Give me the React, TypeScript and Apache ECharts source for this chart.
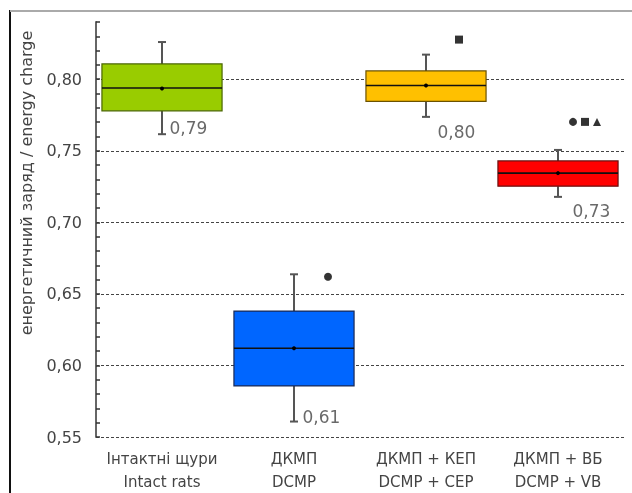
import React, { useEffect, useRef } from "react";
import * as echarts from "echarts";

const categories = [
  "Інтактні щури\nIntact rats",
  "ДКМП\nDCMP",
  "ДКМП + КЕП\nDCMP + CEP",
  "ДКМП + ВБ\nDCMP + VB",
];
const whiskerLow = [0.7616, 0.5608, 0.7737, 0.7178];
const q1 = [0.7779, 0.5857, 0.7846, 0.7253];
const median = [0.7939, 0.612, 0.7956, 0.7344];
const q3 = [0.8107, 0.638, 0.8058, 0.7429];
const whiskerHigh = [0.826, 0.6637, 0.8172, 0.7506];
const means = [0.7935, 0.612, 0.7956, 0.7344];
const boxColors = ["#99cc00", "#0066ff", "#ffc000", "#ff0000"];
const boxBorders = ["#4a6600", "#1a2a55", "#6b5200", "#6b1010"];

const outlierCategory = [1, 2, 3, 3, 3];
const outlierValues = [0.662, 0.8277, 0.7702, 0.7702, 0.7702];
const outlierSymbols = ["circle", "rect", "circle", "rect", "triangle"];

const yTickLabels = ["0,55", "0,60", "0,65", "0,70", "0,75", "0,80"];
const yAxisTitle = "енергетичний заряд / energy charge";

// styling offsets (pixels), not data
const outlierOffsets = [34, 33, 15, 27, 39];
const labelOffsets = [
  [7, -6],
  [8, -5],
  [11, 15],
  [14, 14],
];

const FONT = "'DejaVu Sans', Verdana, sans-serif";

export default function App() {
  const ref = useRef<HTMLDivElement>(null);
  useEffect(() => {
    if (!ref.current) return;
    const chart = echarts.init(ref.current, null, { renderer: "svg" });
    const boxData = categories.map((_, i) => [
      i,
      whiskerLow[i],
      q1[i],
      median[i],
      q3[i],
      whiskerHigh[i],
      means[i],
    ]);
    const fmt = (v: number) => {
      const k = Math.round(v * 20);
      if (Math.abs(k - v * 20) > 1e-6) return "";
      const idx = k - 11;
      return yTickLabels[idx] ?? "";
    };
    const option: any = {
      animation: false,
      textStyle: { fontFamily: FONT },
      grid: { left: 96, right: 8, top: 22, bottom: 56 },
      xAxis: {
        type: "category",
        data: categories,
        axisLine: { show: false },
        axisTick: { show: false },
        axisLabel: {
          interval: 0,
          hideOverlap: false,
          color: "#444",
          fontSize: 15,
          lineHeight: 23,
          margin: 10,
          fontFamily: FONT,
        },
        splitLine: { show: false },
      },
      yAxis: [
        {
          type: "value",
          min: 0.55,
          max: 0.84,
          interval: 0.01,
          axisLine: { show: true, lineStyle: { color: "#666", width: 2 } },
          axisTick: {
            show: true,
            inside: true,
            length: 4,
            lineStyle: { color: "#333", width: 1.5 },
          },
          axisLabel: {
            formatter: fmt,
            color: "#444",
            fontSize: 16,
            margin: 14,
            fontFamily: FONT,
          },
          splitLine: { show: false },
        },
        {
          type: "value",
          min: 0.55,
          max: 0.84,
          interval: 0.05,
          position: "left",
          axisLine: { show: false },
          axisTick: { show: false },
          axisLabel: { show: false },
          splitLine: {
            show: true,
            showMaxLine: false,
            lineStyle: { color: "#444", type: [3, 2], width: 1 },
          },
        },
      ],
      graphic: [
        {
          type: "line",
          shape: { x1: 10, y1: 10, x2: 10, y2: 493 },
          style: { stroke: "#111", lineWidth: 2 },
        },
        {
          type: "line",
          shape: { x1: 10, y1: 11, x2: 632, y2: 11 },
          style: { stroke: "#aaa", lineWidth: 2 },
        },
        {
          type: "text",
          x: 26,
          y: 183,
          rotation: Math.PI / 2,
          style: {
            text: yAxisTitle,
            fill: "#444",
            font: `16px ${FONT}`,
            align: "center",
            verticalAlign: "middle",
          },
        },
      ],
      series: [
        {
          type: "custom",
          data: boxData,
          encode: { x: 0, y: [1, 2, 3, 4, 5] },
          z: 5,
          renderItem: (params: any, api: any) => {
            const i = api.value(0);
            const cx = api.coord([i, 0.7])[0];
            const band = api.size([1, 0])[0];
            const w = band * 0.91;
            const y = (v: number) => api.coord([i, v])[1];
            const yLow = y(api.value(1));
            const yQ1 = y(api.value(2));
            const yMed = y(api.value(3));
            const yQ3 = y(api.value(4));
            const yHigh = y(api.value(5));
            const yMean = y(api.value(6));
            const wStyle = { stroke: "#555", lineWidth: 2 };
            return {
              type: "group",
              children: [
                {
                  type: "line",
                  shape: { x1: cx, y1: yQ3, x2: cx, y2: yHigh },
                  style: wStyle,
                },
                {
                  type: "line",
                  shape: { x1: cx - 4, y1: yHigh, x2: cx + 4, y2: yHigh },
                  style: wStyle,
                },
                {
                  type: "line",
                  shape: { x1: cx, y1: yQ1, x2: cx, y2: yLow },
                  style: wStyle,
                },
                {
                  type: "line",
                  shape: { x1: cx - 4, y1: yLow, x2: cx + 4, y2: yLow },
                  style: wStyle,
                },
                {
                  type: "rect",
                  shape: { x: cx - w / 2, y: yQ3, width: w, height: yQ1 - yQ3 },
                  style: {
                    fill: boxColors[params.dataIndex],
                    stroke: boxBorders[params.dataIndex],
                    lineWidth: 1.2,
                  },
                },
                {
                  type: "line",
                  shape: { x1: cx - w / 2, y1: yMed, x2: cx + w / 2, y2: yMed },
                  style: { stroke: "#111", lineWidth: 1.6 },
                },
                {
                  type: "circle",
                  shape: { cx, cy: yMean, r: 2 },
                  style: { fill: "#000" },
                },
              ],
            };
          },
        },
        {
          type: "scatter",
          z: 6,
          symbolSize: 1,
          itemStyle: { color: "rgba(0,0,0,0)" },
          data: categories.map((_, i) => ({
            value: [i, whiskerLow[i]],
            label: {
              show: true,
              position: "right",
              distance: 0,
              offset: labelOffsets[i],
              formatter: () => means[i].toFixed(2).replace(".", ","),
              color: "#444",
              fontSize: 17,
              fontFamily: FONT,
            },
          })),
        },
        {
          type: "scatter",
          z: 6,
          data: outlierValues.map((v, j) => ({
            value: [outlierCategory[j], v],
            symbol: outlierSymbols[j],
            symbolSize: 8,
            symbolOffset: [outlierOffsets[j], 0],
          })),
          itemStyle: { color: "#000" },
        },
      ],
    };
    chart.setOption(option);
    return () => chart.dispose();
  }, []);
  return (
    <div
      ref={ref}
      style={{ position: "fixed", left: 0, top: 0, width: 632, height: 493 }}
    />
  );
}
